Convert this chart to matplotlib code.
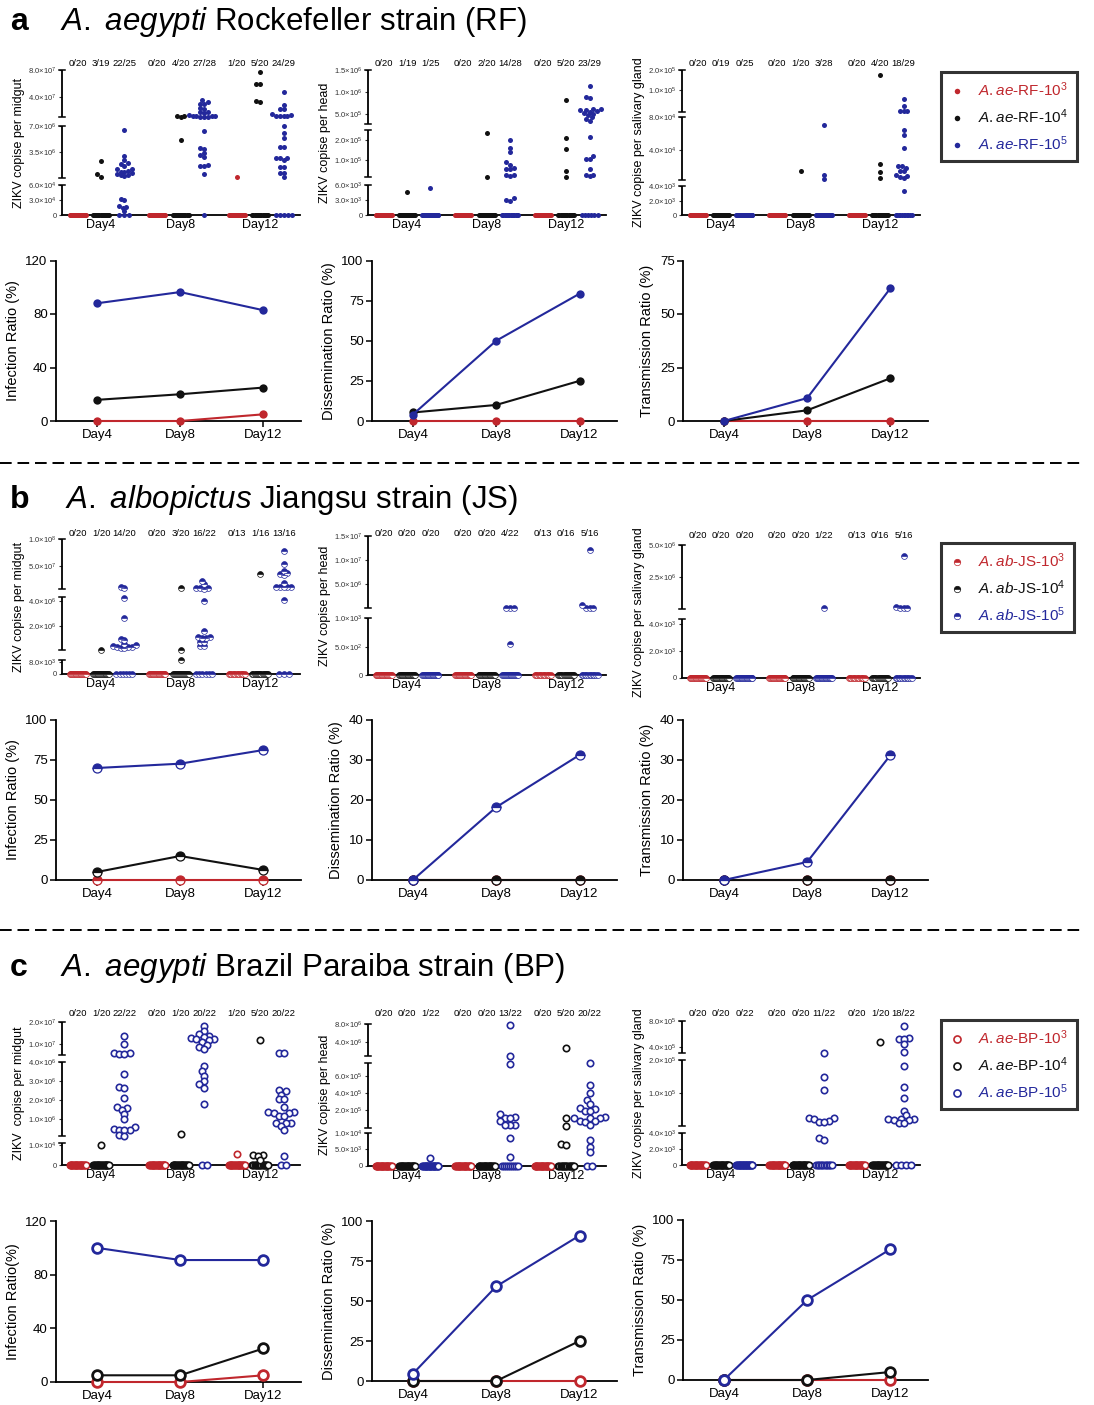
import numpy as np
import matplotlib
matplotlib.use('Agg')
import matplotlib.pyplot as plt
import matplotlib.transforms as mtransforms
from matplotlib.lines import Line2D
from matplotlib.ticker import NullLocator

plt.rcParams['font.family'] = ['Liberation Sans', 'DejaVu Sans']
plt.rcParams['mathtext.fontset'] = 'custom'
plt.rcParams['mathtext.rm'] = 'Liberation Sans'
plt.rcParams['mathtext.it'] = 'Liberation Sans:italic'
plt.rcParams['mathtext.bf'] = 'Liberation Sans:bold'

W, H = 1094, 1405
RED, BLACK, BLUE = '#c0272d', '#111111', '#23289b'
COLORS = [RED, BLACK, BLUE]
DAYS = ['Day4', 'Day8', 'Day12']

# ---- mosquito totals per day (dose 10^3, 10^4, 10^5)
RF_TOTAL = [[20, 19, 25], [20, 20, 28], [20, 20, 29]]
JS_TOTAL = [[20, 20, 20], [20, 20, 22], [13, 16, 16]]
BP_TOTAL = [[20, 20, 22], [20, 20, 22], [20, 20, 22]]

# ---- positive copy numbers, per day -> [10^3, 10^4, 10^5]
RF_MIDGUT = [
    [[], [2.3e6, 5.3e5, 1.7e5],
     [6.5e6, 3.0e6, 2.4e6, 2.0e6, 1.9e6, 1.7e6, 1.2e6, 1.2e6, 1.0e6, 9e5, 8e5,
      7e5, 6e5, 5e5, 4e5, 3e5, 3.3e4, 3.0e4, 1.8e4, 1.6e4, 1.5e4, 8e3]],
    [[], [1.2e7, 1.1e7, 1.05e7, 5.1e6],
     [3.5e7, 3.2e7, 3.0e7, 3.0e7, 2.4e7, 2.2e7, 1.8e7, 1.7e7, 1.6e7, 1.3e7, 1.2e7,
      1.15e7, 1.1e7, 1.1e7, 1.05e7, 1.05e7, 1.0e7, 6.3e6, 4.1e6, 3.9e6, 3.4e6,
      3.1e6, 2.9e6, 1.8e6, 1.7e6, 1.7e6, 6e5]],
    [[1.5e5], [7.8e7, 6.0e7, 6.0e7, 3.4e7, 3.3e7],
     [4.7e7, 2.8e7, 2.2e7, 2.2e7, 1.4e7, 1.3e7, 1.2e7, 1.2e7, 1.1e7, 1.1e7, 7.0e6,
      6.1e6, 5.4e6, 4.2e6, 4.2e6, 2.7e6, 2.7e6, 2.7e6, 2.5e6, 1.5e6, 1.5e6, 7e5,
      7e5, 2e5]],
]
RF_HEAD = [
    [[], [4.7e3], [5.5e3]],
    [[], [2.35e5, 1.7e4],
     [2.0e5, 1.6e5, 1.4e5, 9e4, 7.5e4, 6e4, 5.8e4, 5.6e4, 2.6e4, 2.5e4, 2.4e4,
      3.4e3, 3.1e3, 2.9e3]],
    [[], [8.1e5, 2.13e5, 1.55e5, 4.7e4, 1.7e4],
     [1.12e6, 8.8e5, 8.6e5, 6.1e5, 6.0e5, 5.9e5, 5.8e5, 5.6e5, 5.4e5, 5.2e5, 5.0e5,
      4.7e5, 4.2e5, 3.9e5, 3.4e5, 2.17e5, 1.2e5, 1.09e5, 1.07e5, 5.9e4, 2.6e4,
      2.5e4, 2.4e4]],
]
RF_SALIVA = [
    [[], [], []],
    [[], [1.54e4], [7.1e4, 1.1e4, 5.5e3]],
    [[], [1.76e5, 2.4e4, 1.4e4, 7e3],
     [9.4e4, 8.9e4, 8.6e4, 8.6e4, 8.6e4, 6.5e4, 5.8e4, 4.3e4, 2.1e4, 2.1e4, 1.9e4,
      1.55e4, 1.5e4, 1.05e4, 1.0e4, 8e3, 7.5e3, 3.4e3]],
]
JS_MIDGUT = [
    [[], [9e4],
     [1.0e7, 8.5e6, 4.2e6, 2.6e6, 9.5e5, 9.0e5, 5.6e5, 4.5e5, 4.0e5, 3.5e5, 3.0e5,
      2.8e5, 2.5e5, 2.2e5]],
    [[], [7e6, 8e4, 9e3],
     [2.1e7, 1.5e7, 7.5e6, 7e6, 7e6, 6.8e6, 3.95e6, 1.6e6, 1.15e6, 1.1e6, 1.05e6,
      1.0e6, 7.5e5, 7.2e5, 4e5, 3.8e5]],
    [[], [3.5e7],
     [7.8e7, 5.35e7, 4.0e7, 3.7e7, 3.5e7, 3.2e7, 1.8e7, 1.05e7, 1.0e7, 1.0e7, 1.0e7,
      9.5e6, 4.1e6]],
]
JS_HEAD = [
    [[], [], []],
    [[], [], [1.5e5, 1.5e5, 1.5e5, 5.5e2]],
    [[], [], [1.21e7, 7e5, 1.5e5, 1.5e5, 1.5e5]],
]
JS_SALIVA = [
    [[], [], []],
    [[], [], [1e5]],
    [[], [], [4.2e6, 2e5, 1e5, 1e5, 1e5]],
]
BP_MIDGUT = [
    [[], [1e4],
     [1.37e7, 9.9e6, 5.8e6, 5.6e6, 5.4e6, 5.3e6, 3.4e6, 2.68e6, 2.65e6, 2.1e6, 1.62e6,
      1.6e6, 1.5e6, 1.28e6, 1.0e6, 5.8e5, 4.6e5, 4.4e5, 4.2e5, 4.0e5, 1.3e5, 1.2e5]],
    [[], [2.2e5],
     [1.84e7, 1.58e7, 1.45e7, 1.38e7, 1.3e7, 1.25e7, 1.2e7, 1.2e7, 1.15e7, 1.1e7,
      9.5e6, 8.5e6, 7.5e6, 3.82e6, 3.52e6, 3.29e6, 3.0e6, 2.85e6, 2.64e6, 1.81e6]],
    [[5.5e3], [1.15e7, 5.2e3, 5.0e3, 4.8e3, 2.6e3],
     [5.7e6, 5.6e6, 2.53e6, 2.5e6, 2.29e6, 2.07e6, 2.05e6, 1.62e6, 1.36e6, 1.35e6,
      1.34e6, 1.33e6, 1.18e6, 1.16e6, 8.0e5, 7.9e5, 7.8e5, 6.5e5, 4.0e5, 4.4e3]],
]
BP_HEAD = [
    [[], [], [2.5e3]],
    [[], [],
     [7.9e6, 8.5e5, 7.4e5, 1.55e5, 1.25e5, 1.2e5, 1.15e5, 8.2e4, 4.5e4, 4.3e4, 4.3e4,
      8.5e3, 2.6e3]],
    [[], [2.5e6, 1.2e5, 3.4e4, 6.6e3, 6.3e3],
     [7.5e5, 4.9e5, 3.96e5, 3.2e5, 2.7e5, 2.2e5, 2.15e5, 1.9e5, 1.85e5, 1.22e5, 1.2e5,
      1.18e5, 1.15e5, 8.3e4, 8.1e4, 7.9e4, 4.3e4, 7.8e3, 5.8e3, 4.3e3]],
]
BP_SALIVA = [
    [[], [], []],
    [[], [],
     [3.1e5, 1.48e5, 1.1e5, 2.8e4, 2.7e4, 2.6e4, 1.8e4, 1.7e4, 1.5e4, 3.4e3, 3.1e3]],
    [[], [4.7e5],
     [7.2e5, 5.3e5, 5.25e5, 5.15e5, 4.4e5, 3.25e5, 1.83e5, 1.2e5, 8.5e4, 4.8e4, 3.6e4,
      2.5e4, 2.4e4, 2.4e4, 2.3e4, 2.2e4, 1.3e4, 1.2e4]],
]

# ---- ratios (%) per dose [10^3, 10^4, 10^5] over Day4, Day8, Day12
RF_INF = [[0, 0, 5], [15.8, 20, 25], [88, 96.4, 82.8]]
RF_DIS = [[0, 0, 0], [5.3, 10, 25], [4, 50, 79.3]]
RF_TRA = [[0, 0, 0], [0, 5, 20], [0, 10.7, 62.1]]
JS_INF = [[0, 0, 0], [5, 15, 6.25], [70, 72.7, 81.25]]
JS_DIS = [[0, 0, 0], [0, 0, 0], [0, 18.2, 31.25]]
JS_TRA = [[0, 0, 0], [0, 0, 0], [0, 4.5, 31.25]]
BP_INF = [[0, 0, 5], [5, 5, 25], [100, 90.9, 90.9]]
BP_DIS = [[0, 0, 0], [0, 0, 25], [4.5, 59.1, 90.9]]
BP_TRA = [[0, 0, 0], [0, 0, 5], [0, 50, 81.8]]

# ---- broken y-axis definitions: segments of (value, px above zero line)
SEG_RF_MID = [[(0, 0), (6e4, 29.7)], [(1e5, 37.5), (7e6, 88.7)], [(1e7, 98), (8e7, 144.7)]]
TK_RF_MID = [0, 3e4, 6e4, 3.5e6, 7e6, 4e7, 8e7]
SEG_RF_HEAD = [[(0, 0), (6e3, 29.7)], [(1.5e4, 37.7), (2.5e5, 84.7)], [(2.6e5, 90.7), (1.5e6, 145.3)]]
TK_RF_HEAD = [0, 3e3, 6e3, 1e5, 2e5, 5e5, 1e6, 1.5e6]
SEG_RF_SAL = [[(0, 0), (4e3, 28.7)], [(5e3, 35.3), (8e4, 98)], [(8.5e4, 103), (1e5, 124.7), (2e5, 145.3)]]
TK_RF_SAL = [0, 2e3, 4e3, 4e4, 8e4, 1e5, 2e5]
SEG_JS_MID = [[(0, 0), (8e3, 12.3), (9e3, 14)], [(8e4, 24), (4.3e6, 77)], [(5.3e6, 84.7), (1e8, 134.7)]]
TK_JS_MID = [0, 8e3, 2e6, 4e6, 5e7, 1e8]
SEG_JS_HEAD = [[(0, 0), (1e3, 56.7)], [(1e5, 67), (1.5e7, 139)]]
TK_JS_HEAD = [0, 5e2, 1e3, 5e6, 1e7, 1.5e7]
SEG_JS_SAL = [[(0, 0), (4.4e3, 59)], [(5e4, 69), (5e6, 132.7)]]
TK_JS_SAL = [0, 2e3, 4e3, 2.5e6, 5e6]
SEG_BP_MID = [[(0, 0), (1e4, 19.7), (1.1e4, 22)], [(8.5e4, 28.7), (4e6, 102.7)], [(4.86e6, 110.3), (2e7, 142.7)]]
TK_BP_MID = [0, 1e4, 1e6, 2e6, 3e6, 4e6, 1e7, 2e7]
SEG_BP_HEAD = [[(0, 0), (1e4, 33.3)], [(1.2e4, 38), (2e5, 56), (6e5, 90), (7.5e5, 102.7)],
               [(8e5, 110), (4e6, 124.3), (8e6, 141.7)]]
TK_BP_HEAD = [0, 5e3, 1e4, 2e5, 4e5, 6e5, 4e6, 8e6]
SEG_BP_SAL = [[(0, 0), (4e3, 31.7)], [(5e3, 39.3), (1e5, 71.7), (2e5, 105)], [(3e5, 111.7), (8e5, 144.3)]]
TK_BP_SAL = [0, 2e3, 4e3, 1e5, 2e5, 4e5, 8e5]

COL_SC = [62, 368, 682]
SC_W = 238
SC_XLIM = (-1.67, 8.5)
COL_LN = [56, 372, 683]
LN_W = 245

fig = plt.figure(figsize=(W / 100, H / 100), dpi=100)


def make_scale(segs):
    xp = [v for s in segs for v, _ in s]
    fp = [p for s in segs for _, p in s]
    xp = [xp[0] - 1e3 * (xp[1] - xp[0])] + xp + [xp[-1] + 1e3 * (xp[-1] - xp[-2])]
    fp = [fp[0] - 1e3 * (fp[1] - fp[0])] + fp + [fp[-1] + 1e3 * (fp[-1] - fp[-2])]
    return (lambda v: np.interp(v, xp, fp)), (lambda p: np.interp(p, fp, xp))


def fmt_tick(v):
    if v == 0:
        return '0'
    e = int(np.floor(np.log10(v) + 1e-9))
    return '%.1f×10$^{%d}$' % (v / 10 ** e, e)


def swarm(ys, d):
    offs = np.zeros(len(ys))
    placed = []
    cands = sorted(np.arange(-14, 15) * d * 0.45, key=lambda c: (abs(c), c))
    for i in np.argsort(ys):
        for c in cands:
            if all((c - px) ** 2 + (ys[i] - py) ** 2 >= (0.85 * d) ** 2 for px, py in placed):
                offs[i] = c
                placed.append((c, ys[i]))
                break
    return offs


def mstyle(style, c, scatter=True):
    if style == 'a':
        return dict(marker='o', ms=3.6 if scatter else 6, mfc=c, mec=c, mew=0)
    if style == 'b':
        return dict(marker='o', ms=4.2 if scatter else 6.5, fillstyle='top', mfc=c,
                    mfcalt='white', mec=c, mew=0.5 if scatter else 0.9)
    return dict(marker='o', ms=4.6 if scatter else 7, mfc='white', mec=c,
                mew=1.2 if scatter else 2)


def scatter_panel(col, zero_y, count_y, segs, ticks, data, totals, style, ylabel):
    top = segs[-1][-1][1]
    ax = fig.add_axes([COL_SC[col] / W, 1 - zero_y / H, SC_W / W, top / H])
    fwd, inv = make_scale(segs)
    ax.set_yscale('function', functions=(fwd, inv))
    ax.set_ylim(0, segs[-1][-1][0])
    ax.set_xlim(*SC_XLIM)
    ppx = SC_W / (SC_XLIM[1] - SC_XLIM[0])
    diam = 4.2 if style != 'c' else 5.6
    trans = mtransforms.blended_transform_factory(ax.transData, fig.transFigure)
    for d in range(3):
        for g in range(3):
            xc = d * 3.4 + (g - 1) * 1.0
            vals = data[d][g]
            n0 = totals[d][g] - len(vals)
            st = mstyle(style, COLORS[g])
            if n0:
                w = min(16, 5 * (n0 - 1)) / ppx
                ax.plot(xc + np.linspace(-w / 2, w / 2, n0), np.zeros(n0), ls='none',
                        clip_on=False, zorder=3, **st)
            if vals:
                offs = swarm(fwd(np.array(vals, float)), diam)
                ax.plot(xc + offs / ppx, vals, ls='none', clip_on=False, zorder=3, **st)
            ax.text(xc, 1 - count_y / H, '%d/%d' % (len(vals), totals[d][g]),
                    transform=trans, ha='center', va='center', fontsize=6.8)
    for s in ['left', 'top', 'right']:
        ax.spines[s].set_visible(False)
    ax.spines['bottom'].set_linewidth(1.3)
    tr = ax.get_yaxis_transform()
    cap = 3.2 / SC_W
    for k, s in enumerate(segs):
        lo, hi = s[0][0], s[-1][0]
        ax.plot([0, 0], [lo, hi], color='k', lw=1.3, transform=tr, clip_on=False,
                solid_capstyle='butt')
        for e in ([hi] if k == 0 else [lo, hi]):
            ax.plot([-cap, cap], [e, e], color='k', lw=1.1, transform=tr, clip_on=False)
    ax.set_yticks(ticks, [fmt_tick(t) for t in ticks])
    ax.yaxis.set_minor_locator(NullLocator())
    ax.tick_params(axis='y', length=2.5, width=0.8, labelsize=5.5, pad=1.5, colors='#333333')
    ax.set_xticks([0, 3.4, 6.8], DAYS)
    ax.tick_params(axis='x', length=0, pad=3, labelsize=9)
    ax.set_ylabel(ylabel, fontsize=9, labelpad=2)
    return ax


def line_panel(col, top_y, bot_y, ymax, yticks, series, style, ylabel):
    ax = fig.add_axes([COL_LN[col] / W, 1 - bot_y / H, LN_W / W, (bot_y - top_y) / H])
    x = np.arange(3)
    for g in [0, 1, 2]:
        c = COLORS[g]
        ax.plot(x, series[g], color=c, lw=1.5, clip_on=False, zorder=3,
                **mstyle(style, c, scatter=False))
    ax.set_xlim(-0.49, 2.45)
    ax.set_ylim(0, ymax)
    ax.set_yticks(yticks)
    ax.set_xticks(x, DAYS)
    for s in ['top', 'right']:
        ax.spines[s].set_visible(False)
    for s in ['left', 'bottom']:
        ax.spines[s].set_linewidth(1.3)
    ax.tick_params(length=4, width=1.1, labelsize=9.5, pad=2)
    ax.set_ylabel(ylabel, fontsize=10.5, labelpad=4)
    return ax


def title(y, letter, text, x_text):
    fig.text(10 / W, 1 - y / H, letter, fontsize=23, weight='bold', va='center')
    fig.text(x_text / W, 1 - y / H, text, fontsize=22.5, va='center')


def legend(y, labels, style):
    handles = [Line2D([], [], ls='none', **mstyle(style, c)) for c in COLORS]
    leg = fig.legend(handles, labels, loc='upper left', bbox_to_anchor=(941 / W, 1 - y / H),
                     frameon=True, fancybox=False, edgecolor='k', fontsize=11,
                     handlelength=1.0, handletextpad=0.9, borderpad=0.55,
                     labelspacing=0.55, borderaxespad=0, markerscale=1.1)
    leg.get_frame().set_linewidth(2.2)
    for t, c in zip(leg.get_texts(), COLORS):
        t.set_color(c)


def dashed(y):
    fig.add_artist(Line2D([0, 1085 / W], [1 - y / H] * 2, transform=fig.transFigure,
                          color='k', lw=1.4, dashes=(6, 3)))


YL_MID = 'ZIKV copise per midgut'
YL_HEAD = 'ZIKV copise per head'
YL_SAL = 'ZIKV copise per salivary gland'

# ---- panel a
title(22, 'a', r'$\it{A.\ aegypti}$ Rockefeller strain (RF)', 60)
scatter_panel(0, 215, 64, SEG_RF_MID, TK_RF_MID, RF_MIDGUT, RF_TOTAL, 'a', YL_MID)
scatter_panel(1, 215, 64, SEG_RF_HEAD, TK_RF_HEAD, RF_HEAD, RF_TOTAL, 'a', YL_HEAD)
scatter_panel(2, 215, 64, SEG_RF_SAL, TK_RF_SAL, RF_SALIVA, RF_TOTAL, 'a', YL_SAL)
line_panel(0, 260.5, 421, 120, [0, 40, 80, 120], RF_INF, 'a', 'Infection Ratio (%)')
line_panel(1, 260.5, 421, 100, [0, 25, 50, 75, 100], RF_DIS, 'a', 'Dissemination Ratio (%)')
line_panel(2, 260.5, 421, 75, [0, 25, 50, 75], RF_TRA, 'a', 'Transmission Ratio (%)')
legend(72, [r'$\it{A.ae}$-RF-10$^{3}$', r'$\it{A.ae}$-RF-10$^{4}$', r'$\it{A.ae}$-RF-10$^{5}$'], 'a')
dashed(463)

# ---- panel b
title(500, 'b', r'$\it{A.\ albopictus}$ Jiangsu strain (JS)', 65)
scatter_panel(0, 674, 533, SEG_JS_MID, TK_JS_MID, JS_MIDGUT, JS_TOTAL, 'b', YL_MID)
scatter_panel(1, 675, 533, SEG_JS_HEAD, TK_JS_HEAD, JS_HEAD, JS_TOTAL, 'b', YL_HEAD)
scatter_panel(2, 678, 535, SEG_JS_SAL, TK_JS_SAL, JS_SALIVA, JS_TOTAL, 'b', YL_SAL)
line_panel(0, 720, 880, 100, [0, 25, 50, 75, 100], JS_INF, 'b', 'Infection Ratio (%)')
line_panel(1, 720, 880, 40, [0, 10, 20, 30, 40], JS_DIS, 'b', 'Dissemination Ratio (%)')
line_panel(2, 720, 880, 40, [0, 10, 20, 30, 40], JS_TRA, 'b', 'Transmission Ratio (%)')
legend(543, [r'$\it{A.ab}$-JS-10$^{3}$', r'$\it{A.ab}$-JS-10$^{4}$', r'$\it{A.ab}$-JS-10$^{5}$'], 'b')
dashed(930)

# ---- panel c
title(968, 'c', r'$\it{A.\ aegypti}$ Brazil Paraiba strain (BP)', 60)
scatter_panel(0, 1165, 1014, SEG_BP_MID, TK_BP_MID, BP_MIDGUT, BP_TOTAL, 'c', 'ZIKV  copise per midgut')
scatter_panel(1, 1166, 1014, SEG_BP_HEAD, TK_BP_HEAD, BP_HEAD, BP_TOTAL, 'c', YL_HEAD)
scatter_panel(2, 1165, 1014, SEG_BP_SAL, TK_BP_SAL, BP_SALIVA, BP_TOTAL, 'c', YL_SAL)
line_panel(0, 1221, 1382, 120, [0, 40, 80, 120], BP_INF, 'c', 'Infection Ratio(%)')
line_panel(1, 1221, 1381, 100, [0, 25, 50, 75, 100], BP_DIS, 'c', 'Dissemination Ratio (%)')
line_panel(2, 1220, 1380, 100, [0, 25, 50, 75, 100], BP_TRA, 'c', 'Transmission Ratio (%)')
legend(1020, [r'$\it{A.ae}$-BP-10$^{3}$', r'$\it{A.ae}$-BP-10$^{4}$', r'$\it{A.ae}$-BP-10$^{5}$'], 'c')

fig.savefig('out.png', dpi=100)
